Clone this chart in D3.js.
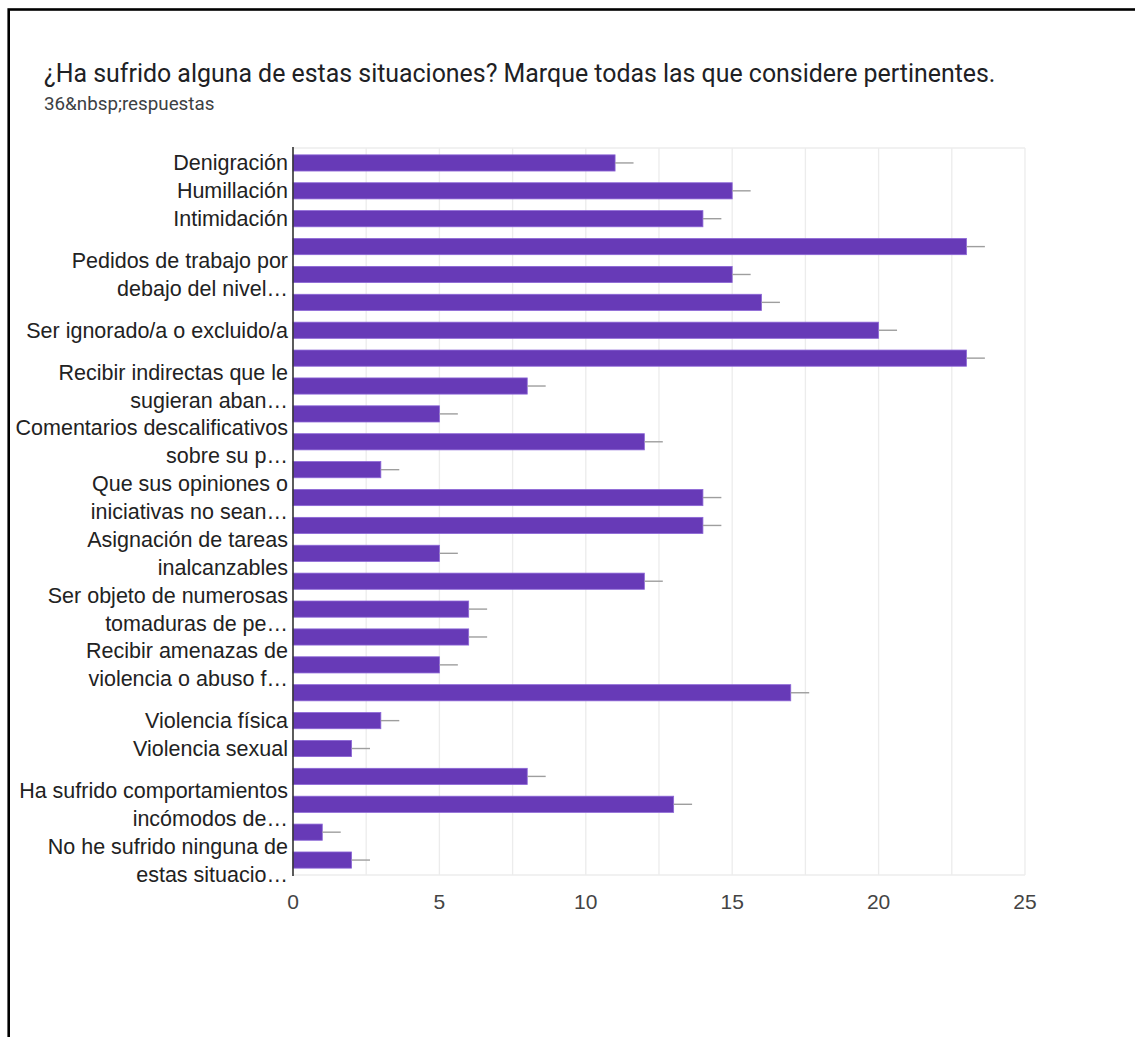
<!DOCTYPE html>
<html>
<head>
<meta charset="utf-8">
<script src="https://cdn.jsdelivr.net/npm/d3@7"></script>
<style>
  html, body { margin: 0; padding: 0; background: #fff; }
  svg { display: block; }
</style>
</head>
<body>
<svg id="chart" width="1135" height="1037"></svg>
<script>
const title = "¿Ha sufrido alguna de estas situaciones? Marque todas las que considere pertinentes.";
const subtitle = "36&nbsp;respuestas";

// Category labels shown on the axis (one entry per bar; [] = label skipped by the chart)
const categoryLabels = [
  ["Denigración"],
  ["Humillación"],
  ["Intimidación"],
  [],
  ["Pedidos de trabajo por", "debajo del nivel…"],
  [],
  ["Ser ignorado/a o excluido/a"],
  [],
  ["Recibir indirectas que le", "sugieran aban…"],
  [],
  ["Comentarios descalificativos", "sobre su p…"],
  [],
  ["Que sus opiniones o", "iniciativas no sean…"],
  [],
  ["Asignación de tareas", "inalcanzables"],
  [],
  ["Ser objeto de numerosas", "tomaduras de pe…"],
  [],
  ["Recibir amenazas de", "violencia o abuso f…"],
  [],
  ["Violencia física"],
  ["Violencia sexual"],
  [],
  ["Ha sufrido comportamientos", "incómodos de…"],
  [],
  ["No he sufrido ninguna de", "estas situacio…"]
];

const values = [11, 15, 14, 23, 15, 16, 20, 23, 8, 5, 12, 3, 14, 14, 5, 12, 6, 6, 5, 17, 3, 2, 8, 13, 1, 2];
const errors = [0.63, 0.63, 0.63, 0.63, 0.63, 0.63, 0.63, 0.63, 0.63, 0.63, 0.63, 0.63, 0.63,
                0.63, 0.63, 0.63, 0.63, 0.63, 0.63, 0.63, 0.63, 0.63, 0.63, 0.63, 0.63, 0.63];
const xTicks = [0, 5, 10, 15, 20, 25];
const xGrid = [2.5, 5, 7.5, 10, 12.5, 15, 17.5, 20, 22.5, 25];

(function () {
const svg = d3.select("#chart");

// frame (extends beyond the picture at right/bottom)
svg.append("rect")
  .attr("x", 8.7).attr("y", 9.5)
  .attr("width", 2000).attr("height", 2000)
  .attr("fill", "none").attr("stroke", "#000").attr("stroke-width", 2.6);

svg.append("text")
  .attr("x", 44).attr("y", 82)
  .attr("font-family", "Roboto, 'Open Sans', sans-serif")
  .attr("font-size", 24.9)
  .attr("fill", "#202124")
  .text(title);

svg.append("text")
  .attr("x", 44).attr("y", 110)
  .attr("font-family", "Roboto, 'Open Sans', sans-serif")
  .attr("font-size", 18.8)
  .attr("fill", "#3c4043")
  .text(subtitle);

const pLeft = 293, pRight = 1025, pTop = 148, pBottom = 875;

const x = d3.scaleLinear().domain([0, 25]).range([pLeft, pRight]);
const y = d3.scaleBand()
  .domain(d3.range(values.length))
  .range([149, 874])
  .paddingInner(0.42)
  .paddingOuter(0.21);

const grid = svg.append("g");
grid.selectAll("line.v").data(xGrid).join("line")
  .attr("x1", d => x(d)).attr("x2", d => x(d))
  .attr("y1", pTop).attr("y2", pBottom)
  .attr("stroke", "#ececec").attr("stroke-width", 1.3);
grid.append("line").attr("x1", pLeft).attr("x2", pRight).attr("y1", pTop).attr("y2", pTop)
  .attr("stroke", "#ececec").attr("stroke-width", 1.3);
grid.append("line").attr("x1", pLeft).attr("x2", pRight).attr("y1", pBottom).attr("y2", pBottom)
  .attr("stroke", "#ececec").attr("stroke-width", 1.3);

// bars
svg.append("g").selectAll("rect").data(values).join("rect")
  .attr("x", x(0))
  .attr("y", (d, i) => y(i))
  .attr("width", d => x(d) - x(0))
  .attr("height", y.bandwidth())
  .attr("fill", "#673ab7")
  .attr("stroke", "#8c66d6")
  .attr("stroke-width", 0.8);

// error whiskers
svg.append("g").selectAll("line").data(values).join("line")
  .attr("x1", d => x(d))
  .attr("x2", (d, i) => x(d + errors[i]))
  .attr("y1", (d, i) => y(i) + y.bandwidth() / 2)
  .attr("y2", (d, i) => y(i) + y.bandwidth() / 2)
  .attr("stroke", "#9e9e9e").attr("stroke-width", 1.4);

// baseline axis
svg.append("line")
  .attr("x1", x(0)).attr("x2", x(0))
  .attr("y1", pTop - 1).attr("y2", pBottom + 1)
  .attr("stroke", "#333").attr("stroke-width", 1.6);

// category labels
const labelG = svg.append("g")
  .attr("font-family", "'Liberation Sans', Arial, sans-serif")
  .attr("font-size", 21.5)
  .attr("fill", "#222")
  .attr("text-anchor", "end");
categoryLabels.forEach((lines, i) => {
  if (!lines.length) return;
  const cy = y(i) + y.bandwidth() / 2;
  const lh = 28;
  const t = labelG.append("text").attr("x", x(0) - 5);
  lines.forEach((ln, k) => {
    t.append("tspan")
      .attr("x", x(0) - 5)
      .attr("y", cy + (k - (lines.length - 1) / 2) * lh)
      .attr("dy", "0.35em")
      .text(ln);
  });
});

// x tick labels
svg.append("g")
  .attr("font-family", "'Liberation Sans', Arial, sans-serif")
  .attr("font-size", 21)
  .attr("fill", "#444")
  .attr("text-anchor", "middle")
  .selectAll("text").data(xTicks).join("text")
  .attr("x", d => x(d))
  .attr("y", 909)
  .text(d => d);
})();
</script>
</body>
</html>
